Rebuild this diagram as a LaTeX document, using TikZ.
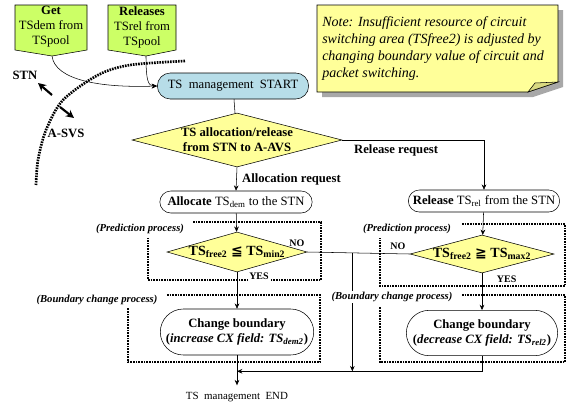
\documentclass[tikz,border=0pt]{standalone}
\usepackage{fontspec}
\setmainfont{Liberation Serif}
\newfontfamily\symfont{DejaVu Sans}
\usetikzlibrary{shapes.geometric,shapes.misc,arrows.meta}
\definecolor{startBlue}{HTML}{B7DDE8}
\definecolor{decYellow}{HTML}{FFFF99}
\definecolor{poolGreen}{HTML}{CCFF66}
\definecolor{noteShadow}{HTML}{A8A8A8}
\definecolor{noteFold}{HTML}{D8D880}

\tikzset{
  base/.style={font=\fontsize{9.5}{11.5}\selectfont, inner sep=1pt},
  poolbox/.style={draw, fill=poolGreen},
  pooltext/.style={inner sep=0pt, align=center, font=\fontsize{9.5}{11.25}\selectfont},
  stadium/.style={base, draw, rounded rectangle, align=center},
  decision/.style={draw, fill=decYellow, diamond, inner sep=0pt},
  dectext/.style={base, font=\bfseries\fontsize{9.5}{11.5}\selectfont, align=center},
  cmptext/.style={base, font=\bfseries\fontsize{10.5}{12}\selectfont},
  boxline/.style={line width=2pt, dash pattern=on 1.2pt off 0.8pt},
  flow/.style={-{Stealth[length=4pt,width=3.5pt]}},
  side/.style={line width=1.6pt, -{Stealth[length=6pt,width=6pt]}},
  proclabel/.style={font=\bfseries\itshape\fontsize{8}{9}\selectfont, fill=white, inner sep=1pt},
  yesno/.style={font=\bfseries\fontsize{7.5}{9}\selectfont, inner sep=1pt},
  reqlabel/.style={base, font=\bfseries\fontsize{9.5}{11.5}\selectfont},
}

\begin{document}
\begin{tikzpicture}[x=0.75pt, y=-0.75pt]
  \useasboundingbox (0,0) rectangle (566,407);

  % note with shadow and folded corner
  \fill[noteShadow] (322,10) -- (563,10) -- (563,87) -- (533,97) -- (322,97) -- cycle;
  \filldraw[fill=decYellow] (317,5) -- (558,5) -- (558,82) -- (528,92) -- (317,92) -- cycle;
  \filldraw[fill=noteFold] (528,92) -- (535,83) -- (558,82) -- cycle;
  \node[anchor=north west, inner sep=0pt, align=left,
    font=\itshape\fontsize{10.5}{12.75}\selectfont] (note) at (322,16)
    {Note: Insufficient resource of circuit\\switching area (TSfree2) is adjusted by\\changing boundary value of circuit and\\packet switching.};

  % boundary between STN and A-SVS
  \draw[boxline] plot[smooth] coordinates {(185,61) (130,65) (98,75) (63,100) (46,130) (38,160) (36,185)};
  \node[reqlabel] (stn) at (25,75) {STN};
  \node[reqlabel] (asvs) at (66,133) {A-SVS};
  \draw[side] (52,95) -- (38,83);
  \draw[side] (60,107) -- (74,118);

  % pool requests
  \filldraw[poolbox] (15,5) -- (87,5) -- (87,50) -- (52,56) -- (15,50) -- cycle;
  \filldraw[poolbox] (108,5) -- (176,5) -- (176,50) -- (146,56) -- (108,50) -- cycle;
  \node[pooltext] (getpool) at (51,27) {\textbf{Get}\\TSdem from\\TSpool};
  \node[pooltext] (relpool) at (142,27) {\textbf{Releases}\\TSrel from\\TSpool};
  \coordinate (gettip) at (52,56);
  \coordinate (reltip) at (146,56);

  % main flow
  \node[stadium, fill=startBlue, minimum width=115.5pt, minimum height=19.5pt] (start) at (233,86) {TS~~management~~START};
  \node[decision, minimum width=157.5pt, minimum height=40.5pt,
    label={[dectext]center:TS allocation/release\\from STN to A-AVS}] (alloc) at (237,140) {};
  \node[stadium, minimum width=116.25pt, minimum height=16.5pt] (allocate) at (236,202)
    {\textbf{Allocate} TS\textsubscript{dem} to the STN};
  \node[stadium, minimum width=115.5pt, minimum height=16.5pt] (release) at (484,201)
    {\textbf{Release} TS\textsubscript{rel} from the STN};
  \node[decision, minimum width=105pt, minimum height=30pt,
    label={[cmptext]center:TS\textsubscript{free2} {\symfont\bfseries ≦} TS\textsubscript{min2}}] (mincheck) at (237,252) {};
  \node[decision, minimum width=108pt, minimum height=28.5pt,
    label={[cmptext]center:TS\textsubscript{free2} {\symfont\bfseries ≧} TS\textsubscript{max2}}] (maxcheck) at (482,254) {};
  \node[stadium, minimum width=114.75pt, minimum height=34.5pt] (incbound) at (237,332)
    {\textbf{Change boundary}\\\textbf{(\textit{increase CX field: TS\textsubscript{dem2}})}};
  \node[stadium, minimum width=115.5pt, minimum height=34pt] (decbound) at (482,333)
    {\textbf{Change boundary}\\\textbf{(\textit{decrease CX field: TS\textsubscript{rel2}})}};
  \node[base, inner ysep=5pt, font=\fontsize{8.2}{10}\selectfont] (finish) at (237,397) {TS~~management~~END};

  % connectors
  \draw[flow] (gettip) .. controls (55,80) and (100,88) .. (start.west);
  \draw[flow] (reltip) .. controls (146,80) and (148,86) .. (start.west);
  \draw (start) -- (alloc);
  \draw[flow] (alloc.south) -- node[reqlabel, right=3pt] {Allocation request} (allocate.north);
  \draw[flow] (alloc.east) -| node[reqlabel, pos=0.19, below=2pt] {Release request} (release.north);
  \draw[flow] (allocate) -- (mincheck);
  \draw[flow] (release) -- (maxcheck);
  \draw (mincheck.east) -- coordinate[pos=0.44] (nojoin)
    node[yesno, pos=0, anchor=south east, xshift=-1pt, yshift=3pt] {NO}
    node[yesno, pos=1, anchor=south east, xshift=-2pt, yshift=2pt] {NO} (maxcheck.west);
  \path (incbound.south) ++(0,16) coordinate (merge);

  % prediction and boundary change areas
  \draw[boxline] (193,222) -- (321,222) -- (321,280) -- (148,280) -- (148,238);
  \draw[boxline] (462,224) -- (565,224) -- (565,286) -- (380,286) -- (380,238);
  \draw[boxline] (167,295) -- (320,295) -- (320,362) -- (128,362) -- (128,308);
  \draw[boxline] (462,295) -- (565,295) -- (565,362) -- (380,362) -- (380,307);

  \draw[flow] (mincheck.south) -- node[yesno, pos=0.1, anchor=west, xshift=8pt, fill=white] {YES} (incbound.north);
  \draw[flow] (maxcheck.south) -- node[yesno, pos=0.17, anchor=west, xshift=10pt] {YES} (decbound.north);
  \draw[flow] (nojoin) -- (nojoin |- merge);
  \draw[flow] (decbound.south) |- (merge);
  \draw[flow] (incbound.south) -- (finish.north);

  \node[proclabel] (predleft) at (140,229) {(Prediction process)};
  \node[proclabel] (predright) at (407,229) {(Prediction process)};
  \node[proclabel] (bndleft) at (97,300) {(Boundary change process)};
  \node[proclabel] (bndright) at (392,297) {(Boundary change process)};
\end{tikzpicture}
\end{document}
